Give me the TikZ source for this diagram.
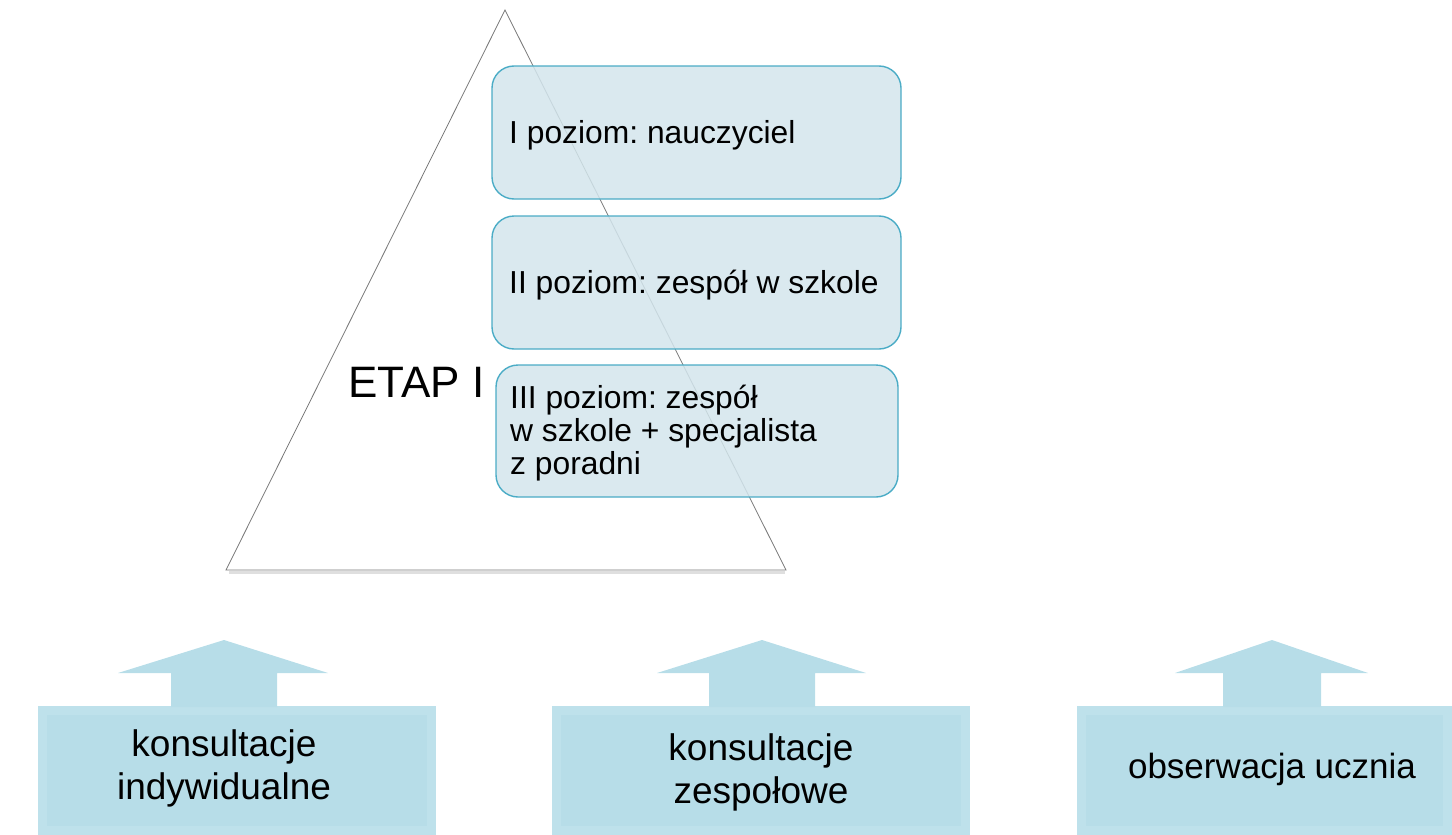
\documentclass[tikz,border=0pt]{standalone}
\usepackage{fontspec}
\setmainfont{Liberation Sans}
\frenchspacing
\definecolor{topfill}{RGB}{211,229,236}
\definecolor{topline}{RGB}{75,172,198}
\definecolor{botfill}{RGB}{183,221,232}
\definecolor{botedge}{RGB}{190,225,235}
\definecolor{triline}{RGB}{120,120,120}
\begin{document}
\begin{tikzpicture}[x=1pt,y=-1pt,
  topbox/.style={draw=topline, line width=1.4pt, fill=topfill, fill opacity=0.85,
    rounded corners=22pt, inner sep=0pt},
  toptext/.style={font=\fontsize{31.8}{33}\selectfont, inner sep=0pt, text=black},
  botbox/.style={fill=botedge, draw=none, inner sep=0pt},
  botinner/.style={fill=botfill, draw=none},
  bottext/.style={font=\fontsize{37}{43.5}\selectfont, inner sep=0pt, text=black},
  blockarrow/.style={fill=botfill, draw=none},
  triangle/.style={draw=triline, line width=0.8pt, line join=miter}
]
\useasboundingbox (0,0) rectangle (1452,835);
% triangle
\coordinate (apex) at (505,10);
\coordinate (bl) at (226,570);
\coordinate (br) at (786,570);
\draw[gray!25, line width=3pt] (229,572.5) -- (785,572.5);
\draw[triangle] (apex) -- (br) -- (bl) -- cycle;
\node[font=\fontsize{44}{50}\selectfont, anchor=base west, inner sep=0pt] (etap) at (348,397) {ETAP I};
% top boxes
\node[topbox, minimum width=409pt, minimum height=133pt] (b1) at (696.5,132.5) {};
\node[topbox, minimum width=409pt, minimum height=133pt] (b2) at (696.5,282.5) {};
\node[topbox, minimum width=402pt, minimum height=132pt] (b3) at (697,431) {};
\node[toptext, anchor=base west] (t1) at (509,143) {I poziom: nauczyciel};
\node[toptext, anchor=base west] (t2) at (509,293) {II poziom: zespół w szkole};
\node[toptext, anchor=base west] (t3) at (510,408) {\vtop{\baselineskip=33pt\hbox{III poziom: zespół}\hbox{w szkole + specjalista}\hbox{z poradni}}};
% bottom boxes
\node[botbox, minimum width=398pt, minimum height=129pt, anchor=north west] (k1) at (38,706) {};
\fill[botinner] ([xshift=9pt,yshift=-9pt]k1.north west) rectangle ([xshift=-9pt,yshift=9pt]k1.south east);
\node[botbox, minimum width=418pt, minimum height=129pt, anchor=north west] (k2) at (552,706) {};
\fill[botinner] ([xshift=9pt,yshift=-9pt]k2.north west) rectangle ([xshift=-9pt,yshift=9pt]k2.south east);
\node[botbox, minimum width=375pt, minimum height=129pt, anchor=north west] (k3) at (1077,706) {};
\fill[botinner] ([xshift=9pt,yshift=-9pt]k3.north west) rectangle ([xshift=-9pt,yshift=9pt]k3.south east);
% block arrows
\fill[blockarrow] (171,707) -- (171,673) -- (118,673) -- (224,640) -- (328,673) -- (277,673) -- (277,707) -- cycle;
\fill[blockarrow] (709,707) -- (709,673) -- (657,673) -- (762,640) -- (866,673) -- (815,673) -- (815,707) -- cycle;
\fill[blockarrow] (1223,707) -- (1223,673) -- (1175,673) -- (1272,640) -- (1368,673) -- (1321,673) -- (1321,707) -- cycle;
% bottom texts
\node[bottext, anchor=base] (s1) at (224,756) {\vtop{\baselineskip=43.5pt\halign{\hfil#\hfil\cr konsultacje\cr indywidualne\cr}}};
\node[bottext, anchor=base] (s2) at (761,760) {\vtop{\baselineskip=43.5pt\halign{\hfil#\hfil\cr konsultacje\cr zespołowe\cr}}};
\node[bottext, font=\fontsize{35}{42}\selectfont, anchor=base] (s3) at (1272,778) {obserwacja ucznia};
\end{tikzpicture}
\end{document}
